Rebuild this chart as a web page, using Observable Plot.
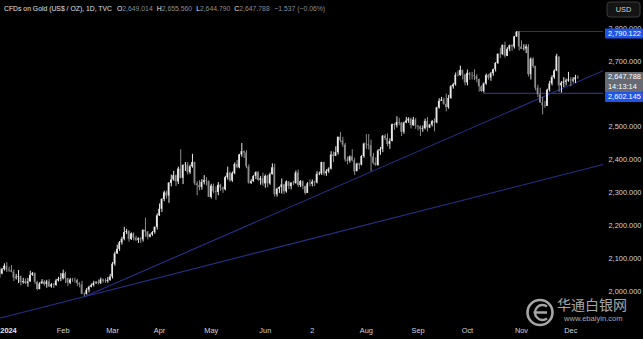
<!DOCTYPE html>
<html><head><meta charset="utf-8">
<script src="https://cdn.jsdelivr.net/npm/d3@7"></script>
<script src="https://cdn.jsdelivr.net/npm/@observablehq/plot@0.6"></script>
<style>
html,body{margin:0;padding:0;background:#000;overflow:hidden}
#chart{position:relative;width:643px;height:339px}
</style></head><body><div id="chart"></div>
<script>
// Daily bars, TVC Gold, 22 Dec 2023 (index -5) to 5 Dec 2024 (index 241)
const firstBarIndex = -5;
const open = [
2045,2053,2067,2077,2065,
2063,2059,2041,2043,2045,2027,2030,2024,2029,2049,2055,2028,2006,2023,2029,2021,2029,2014,2020,2018,2032,2037,
2039,2054,2039,2025,2035,2034,2033,2024,2020,1992,1991,2004,2013,2018,2025,2026,2024,2035,2031,2030,2034,
2044,2083,2114,2128,2148,2159,2179,2182,2158,2175,2162,2156,2160,2157,2186,2181,2165,2172,2179,2195,
2230,2250,2280,2300,2290,2329,2339,2352,2333,2372,2344,2383,2384,2361,2379,2392,2327,2322,2316,2332,2337,2335,
2286,2320,2303,2301,2323,2314,2309,2346,2360,2336,2358,2386,2376,2415,2425,2421,2379,2329,2334,2350,2361,2338,2343,
2327,2350,2327,2355,2376,2294,2311,2316,2324,2303,2333,2319,2329,2328,2360,2322,2334,2319,2298,2327,
2326,2332,2330,2356,2357,2392,2358,2364,2372,2415,2411,2422,2469,2458,2445,2400,2396,2409,2397,2364,2387,2384,2410,
2448,2446,2443,2409,2390,2383,2427,2431,2472,2465,2447,2456,2507,2504,2514,2512,2484,2512,2518,2524,2504,2521,
2503,2500,2493,2495,2517,2497,2506,2516,2512,2558,2578,2582,2569,2559,2587,2622,2628,2657,2656,2672,2658,
2634,2663,2657,2656,2653,2644,2622,2608,2631,2656,2649,2662,2674,2693,2721,2720,2748,2715,2736,2747,2743,2774,2788,
2743,2736,2737,2743,2659,2706,2684,2618,2598,2573,2565,2563,2612,2631,2650,2670,2712,2625,2633,2636,2640,
2643,2640,2643,2649.014];
const high = [
2071,2070,2084,2088,2074,
2079,2065,2052,2064,2047,2040,2038,2040,2062,2058,2056,2031,2027,2036,2033,2034,2036,2024,2024,2037,2043,2055,
2065,2059,2040,2040,2040,2041,2037,2027,2031,1996,2009,2016,2023,2031,2030,2035,2041,2038,2038,2043,2052,
2088,2120,2141,2152,2165,2195,2189,2185,2178,2178,2168,2163,2163,2187,2223,2182,2175,2182,2196,2236,
2266,2282,2305,2305,2331,2354,2365,2354,2378,2431,2385,2392,2392,2384,2417,2393,2334,2337,2340,2352,2346,2336,
2326,2326,2318,2331,2326,2318,2350,2378,2363,2363,2391,2398,2417,2450,2427,2428,2385,2340,2352,2364,2364,2350,2360,
2354,2353,2360,2388,2387,2314,2318,2342,2326,2336,2334,2331,2335,2366,2369,2337,2336,2320,2331,2339,
2339,2335,2364,2363,2393,2393,2370,2376,2425,2424,2440,2469,2483,2469,2450,2409,2412,2431,2405,2390,2390,2413,2451,
2477,2477,2460,2420,2406,2431,2438,2474,2477,2479,2464,2509,2510,2531,2526,2514,2515,2529,2528,2527,2529,2526,
2504,2503,2503,2524,2529,2508,2520,2525,2560,2586,2590,2588,2600,2596,2626,2633,2664,2670,2685,2673,2660,
2673,2666,2666,2674,2659,2646,2625,2634,2661,2660,2666,2676,2696,2722,2740,2749,2758,2741,2749,2750,2775,2790,2790,
2762,2750,2750,2750,2710,2710,2685,2627,2618,2590,2578,2615,2639,2656,2674,2721,2714,2638,2650,2646,2666,
2650,2650,2657,2655.56];
const low = [
2040,2051,2062,2058,2058,
2057,2030,2035,2024,2017,2022,2021,2013,2028,2046,2021,2002,2005,2022,2016,2010,2012,2010,2009,2016,2029,2030,
2035,2024,2015,2021,2028,2025,2015,2011,1990,1984,1989,1996,2011,2014,2021,2020,2021,2025,2025,2025,2031,
2038,2077,2113,2122,2141,2154,2173,2150,2155,2154,2152,2146,2146,2150,2165,2157,2163,2168,2174,2187,
2228,2240,2273,2281,2268,2318,2335,2319,2325,2342,2325,2365,2354,2356,2375,2322,2291,2306,2308,2324,2321,2285,
2281,2297,2277,2291,2304,2298,2306,2339,2332,2332,2355,2373,2373,2408,2404,2373,2326,2325,2332,2340,2334,2323,2320,
2314,2315,2323,2354,2287,2287,2298,2296,2295,2299,2310,2309,2322,2326,2316,2316,2309,2293,2298,2318,
2318,2319,2327,2352,2353,2351,2350,2359,2369,2392,2410,2415,2452,2438,2393,2385,2390,2394,2353,2364,2370,2382,2405,
2432,2430,2364,2385,2380,2381,2414,2422,2459,2440,2432,2455,2490,2497,2504,2471,2478,2510,2511,2494,2502,2493,
2488,2471,2484,2491,2485,2495,2500,2485,2510,2554,2578,2566,2546,2554,2584,2615,2624,2652,2654,2643,2625,
2625,2642,2643,2641,2634,2606,2605,2603,2627,2642,2639,2654,2667,2690,2708,2718,2709,2714,2729,2730,2737,2772,2731,
2735,2731,2723,2652,2643,2678,2610,2589,2572,2537,2557,2562,2606,2625,2645,2668,2605,2603,2620,2625,2636,
2622,2634,2632,2644.79];
const close = [
2053,2067,2077,2065,2063,
2059,2041,2043,2045,2027,2030,2024,2029,2049,2055,2028,2006,2023,2029,2021,2029,2014,2020,2018,2032,2037,2039,
2054,2039,2025,2035,2034,2033,2024,2020,1992,1991,2004,2013,2018,2025,2026,2024,2035,2031,2030,2034,2044,
2083,2114,2128,2148,2159,2179,2182,2158,2175,2162,2156,2160,2157,2186,2181,2165,2172,2179,2195,2230,
2250,2280,2300,2290,2329,2339,2352,2333,2372,2344,2383,2384,2361,2379,2392,2327,2322,2316,2332,2337,2335,2286,
2320,2303,2301,2323,2314,2309,2346,2360,2336,2358,2386,2376,2415,2425,2421,2379,2329,2334,2350,2361,2338,2343,2327,
2350,2327,2355,2376,2294,2311,2316,2324,2303,2333,2319,2329,2328,2360,2322,2334,2319,2298,2327,2326,
2332,2330,2356,2357,2392,2358,2364,2372,2415,2411,2422,2469,2458,2445,2400,2396,2409,2397,2364,2387,2384,2410,2448,
2446,2443,2409,2390,2383,2427,2431,2472,2465,2447,2456,2507,2504,2514,2512,2484,2512,2518,2524,2504,2521,2503,
2500,2493,2495,2517,2497,2506,2516,2512,2558,2578,2582,2569,2559,2587,2622,2628,2657,2656,2672,2658,2634,
2663,2657,2656,2653,2644,2622,2608,2631,2656,2649,2662,2674,2693,2721,2720,2748,2715,2736,2747,2743,2774,2788,2743,
2736,2737,2743,2659,2706,2684,2618,2598,2573,2565,2563,2612,2631,2650,2670,2715,2625,2633,2636,2640,2643,
2640,2643,2649.325,2647.788];

const monthTickIndex = [0,22,43,63,85,108,128,151,173,194,217,238];
const monthTickLabel = ["2024","Feb","Mar","Apr","May","Jun","2","Aug","Sep","Oct","Nov","Dec"];
const priceTicks = [2000,2100,2200,2300,2400,2500,2700,2800]; // 2,600 is hidden under the level label
// drawn lines (bar index, price)
const lowerTrend = [{i:-4.68, p:1919.4},{i:251.9, p:2386.3}];
const steepTrend = [{i:31, p:1984.3},{i:251.9, p:2671.6}];
const levels = [{from:215, p:2790.122},{from:201, p:2602.145}];
const clockText = "14:13:14";

const xDomain = [-4.68, 251.9];
const yDomain = [1914.9, 2884.5];
const FONT = "'Liberation Sans',Arial,sans-serif";
const FS = 7.4;
const UP = "#e8e8e8", DOWN = "#8c8c8c", LINE = "#27308a";

const bars = close.map((c, k) => ({i: firstBarIndex + k, o: open[k], h: high[k], l: low[k], c}));
const col = d => d.c >= d.o ? UP : DOWN;

const chart = Plot.plot({
  width: 643, height: 339,
  marginLeft: 0, marginRight: 40, marginTop: 0, marginBottom: 20,
  style: {background: "#000", color: "#d1d4dc", fontFamily: FONT, fontSize: FS + "px"},
  x: {type: "linear", domain: xDomain, axis: null},
  y: {domain: yDomain, axis: null},
  color: {type: "identity"},
  marks: [
    Plot.line(lowerTrend, {x: "i", y: "p", stroke: LINE, strokeWidth: 1.1, clip: true}),
    Plot.line(steepTrend, {x: "i", y: "p", stroke: LINE, strokeWidth: 1.1, clip: true}),
    Plot.ruleY(levels, {x1: "from", x2: () => xDomain[1], y: "p", stroke: LINE, strokeWidth: 1.1, clip: true}),
    Plot.ruleX(bars, {x: "i", y1: "l", y2: "h", stroke: col, strokeWidth: 1, clip: true}),
    Plot.rect(bars, {x1: d => d.i - 0.34, x2: d => d.i + 0.34, y1: d => Math.min(d.o, d.c), y2: d => Math.max(d.o, d.c), fill: col, clip: true}),
    Plot.axisX({ticks: monthTickIndex.slice(1), tickFormat: d => monthTickLabel[monthTickIndex.indexOf(d)], tickSize: 0, tickPadding: 8, fill: "#d1d4dc", fontSize: FS}),
    Plot.axisX({ticks: [monthTickIndex[0]], tickFormat: () => monthTickLabel[0], tickSize: 0, tickPadding: 8, dx: -3, fill: "#e8e8e8", fontSize: FS, fontWeight: "bold"}),
    Plot.axisY({anchor: "right", ticks: priceTicks, tickFormat: d3.format(",.3f"), tickSize: 0, tickPadding: 5, textAnchor: "start", fill: "#d1d4dc", fontSize: FS})
  ]
});
document.getElementById("chart").appendChild(chart);

const svg = d3.select(chart);
const ys = chart.scale("y");
const fmt = d3.format(",.3f");
const last = bars[bars.length - 1], prev = bars[bars.length - 2];
const boxX = 605, boxW = 38;

function box(top, h, fill, lines) {
  const g = svg.append("g").attr("text-anchor", "start");
  g.append("rect").attr("x", boxX).attr("y", top).attr("width", boxW).attr("height", h).attr("fill", fill).attr("rx", 1);
  lines.forEach((t, k) => g.append("text").attr("x", boxX + 3).attr("y", top + 7.5 + k * 10)
    .attr("fill", "#fff").attr("font-family", FONT).attr("font-size", FS).text(t));
}
const yHi = ys.apply(levels[0].p);
box(yHi - 2.5, 10, "#1f55e6", [fmt(levels[0].p)]);
const yCur = ys.apply(last.c);
box(yCur - 6, 20, "#666a72", [fmt(last.c), clockText]);
const yLo = ys.apply(levels[1].p);
box(Math.max(yLo - 5, yCur + 14), 10, "#1f55e6", [fmt(levels[1].p)]);

// USD button
svg.append("rect").attr("x", 607).attr("y", 2).attr("width", 33).attr("height", 15).attr("rx", 3)
  .attr("fill", "#141414").attr("stroke", "#3a3a3a");
svg.append("text").attr("x", 623.5).attr("y", 12.3).attr("text-anchor", "middle").attr("fill", "#d1d4dc")
  .attr("font-family", FONT).attr("font-size", FS).text("USD");

// header legend (slightly condensed like the original)
const SX = 0.9;
const head = svg.append("g").attr("transform", `scale(${SX},1)`)
  .append("text").attr("x", 4 / SX).attr("y", 11).attr("text-anchor", "start").attr("font-family", FONT).attr("font-size", 7.6);
head.append("tspan").attr("fill", "#e0e0e0").text("CFDs on Gold (US$ / OZ), 1D, TVC");
const chg = last.c - prev.c, pct = chg / prev.c * 100;
[["O", last.o], ["H", last.h], ["L", last.l], ["C", last.c]].forEach(([k, v], n) => {
  head.append("tspan").attr("dx", n === 0 ? 5.5 : 4.5).attr("fill", "#e8e8e8").text(k);
  head.append("tspan").attr("fill", "#8a8d96").text(fmt(v));
});
head.append("tspan").attr("dx", 5).attr("fill", "#8a8d96").text(fmt(chg) + " (" + d3.format(".2f")(pct) + "%)");

// watermark
const wm = svg.append("g").attr("opacity", 0.8).attr("text-anchor", "start");
wm.append("circle").attr("cx", 540).attr("cy", 312.5).attr("r", 12.5).attr("fill", "none").attr("stroke", "#d0d0d0").attr("stroke-width", 2.6);
wm.append("path").attr("d", "M547 306.5 A7.5 7.5 0 1 0 547 318.5 M533.5 312.5 H547").attr("fill", "none").attr("stroke", "#d0d0d0").attr("stroke-width", 2.4);
wm.append("text").attr("x", 557).attr("y", 310).attr("fill", "#d0d0d0").attr("font-family", "'Noto Sans CJK SC',sans-serif").attr("font-size", 14).text("华通白银网");
wm.append("text").attr("x", 564).attr("y", 320.5).attr("fill", "#d0d0d0").attr("font-family", FONT).attr("font-size", 7.6).text("www.ebaiyin.com");
</script></body></html>
